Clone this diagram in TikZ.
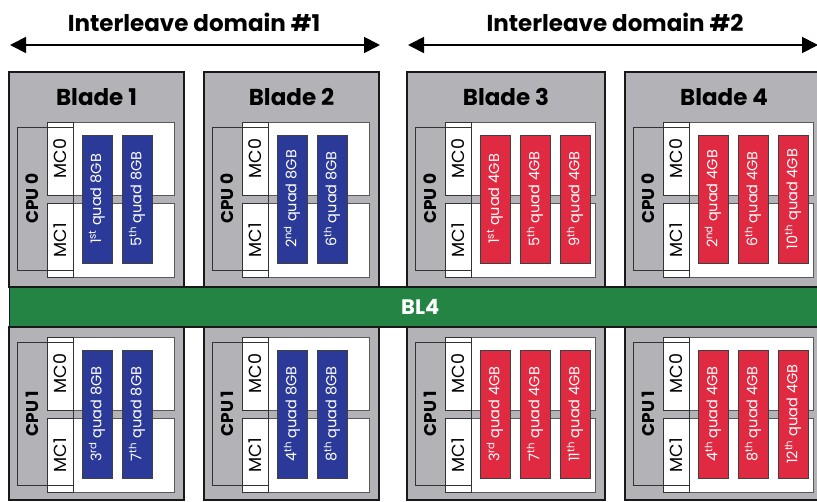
\documentclass[tikz,border=0pt]{standalone}
\usepackage{fontspec}
\setmainfont{Poppins}
\usetikzlibrary{arrows.meta}
\definecolor{bladegray}{HTML}{B3B2B7}
\definecolor{quadblue}{HTML}{2B3A98}
\definecolor{quadred}{HTML}{E02A42}
\definecolor{busgreen}{HTML}{238443}
\begin{document}
\begin{tikzpicture}[x=1pt,y=-1pt,
  head/.style={font=\fontsize{23}{26}\selectfont\bfseries,inner sep=0pt},
  blade/.style={draw=black!90,line width=1.7pt,fill=bladegray},
  memarea/.style={draw=black!65,line width=0.9pt,fill=white},
  mcbox/.style={draw=black!80,line width=0.9pt,rotate=90,minimum height=26pt,inner sep=0pt,font=\fontsize{17.5}{20}\selectfont},
  cpubox/.style={draw=black!80,line width=1pt},
  cpulabel/.style={rotate=90,inner sep=0pt,font=\fontsize{17}{19}\selectfont\bfseries},
  quad/.style={draw=black!75,line width=0.9pt,rotate=90,minimum width=128pt,minimum height=30pt,inner sep=0pt,text=white,font=\fontsize{14.5}{16}\selectfont},
  bus/.style={draw=black!90,line width=1.4pt,fill=busgreen,text=white,anchor=west,minimum width=821pt,minimum height=40pt,font=\fontsize{21}{24}\selectfont\bfseries},
  domarrow/.style={{Triangle[length=16pt,width=16pt]}-{Triangle[length=16pt,width=16pt]},line width=1.8pt}]
\useasboundingbox (0,0) rectangle (817,501);
\clip (0,0) rectangle (817,501);
% interleave domains
\node[head] (dom1) at (194,22) {Interleave domain \#1};
\node[head] (dom2) at (615,22) {Interleave domain \#2};
\coordinate (d1w) at (10,45); \coordinate (d1e) at (380,45);
\coordinate (d2w) at (408,45); \coordinate (d2e) at (818,45);
\draw[domarrow] (d1w)--(d1e); \draw[domarrow] (d2w)--(d2e);
% blades
\foreach \n/\bx/\bw/\gb/\qc/\up/\lo in {1/9/175/8/quadblue/{1/st,5/th}/{3/rd,7/th},2/204/175/8/quadblue/{2/nd,6/th}/{4/th,8/th},3/407/198/4/quadred/{1/st,5/th,9/th}/{3/rd,7/th,11/th},4/625/198/4/quadred/{2/nd,6/th,10/th}/{4/th,8/th,12/th}}{
  \draw[blade] (\bx,72) rectangle ({\bx+\bw},287);
  \draw[blade] (\bx,327) rectangle ({\bx+\bw},500);
  \node[head] (blade\n) at ({\bx+\bw/2},97) {Blade \n};
  \foreach \c/\yc in {0/122,1/337}{
    \draw[memarea] ({\bx+38},\yc) rectangle ({\bx+\bw-10},{\yc+73});
    \draw[memarea] ({\bx+38},{\yc+81}) rectangle ({\bx+\bw-10},{\yc+155});
    \node[mcbox,minimum width=73pt] (mca\n\c) at ({\bx+51},{\yc+36.5}) {MC0};
    \node[mcbox,minimum width=74pt] (mcb\n\c) at ({\bx+51},{\yc+118}) {MC1};
    \draw[cpubox] ({\bx+8},{\yc+5}) rectangle ({\bx+64},{\yc+148});
    \node[cpulabel] (cpu\n\c) at ({\bx+23},{\yc+76.5}) {CPU \c};
  }
  \foreach \k/\s [count=\i from 0] in \up
    \node[quad,fill=\qc] (qa\n\i) at ({\bx+88+40*\i},199) {\k\textsuperscript{\s} quad \gb GB};
  \foreach \k/\s [count=\i from 0] in \lo
    \node[quad,fill=\qc] (qb\n\i) at ({\bx+88+40*\i},414) {\k\textsuperscript{\s} quad \gb GB};
}
% BL4 bus
\node[bus] (bl4) at (9,307) {BL4};
\end{tikzpicture}
\end{document}
